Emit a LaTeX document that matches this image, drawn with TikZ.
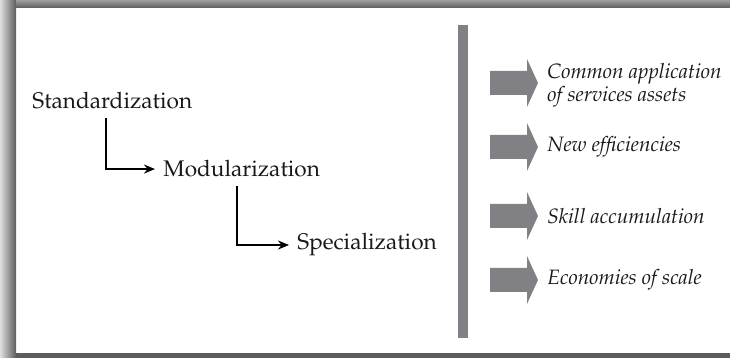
\documentclass[tikz,border=0pt]{standalone}
\usepackage[T1]{fontenc}
\usepackage{mathpazo}
\usetikzlibrary{arrows.meta}

\definecolor{bargray}{RGB}{128,128,133}
\definecolor{framegray}{RGB}{92,92,92}

\tikzset{
  stage/.style={inner sep=4pt, anchor=base west, text=black!90, font=\fontsize{11.3}{13}\selectfont},
  gain/.style={inner sep=0pt, anchor=west, align=left, text=black!90, font=\fontsize{10.4}{10}\selectfont\itshape},
  link/.style={line width=1pt, -{Stealth[length=5.5pt, width=4.5pt]}},
}

\begin{document}
\begin{tikzpicture}[x=0.5pt, y=0.5pt]
\useasboundingbox (0,0) rectangle (730,358);

% frame with shaded left edge
\fill[left color=gray!25, right color=framegray] (0,0) rectangle (16,358);
\fill[top color=gray!75, bottom color=framegray] (16,350) rectangle (730,358);
\fill[framegray] (16,0) rectangle (730,5);

% the three stages
\node[stage] (std) at (24,249) {Standardization};
\node[stage] (mod) at (155,181) {Modularization};
\node[stage] (spec) at (289,108) {Specialization};

\draw[link] ([xshift=41pt]std.south west) |- (mod.west);
\draw[link] ([xshift=41pt]mod.south west) |- (spec.west);

% divider
\fill[bargray] (458,20) rectangle (468,333);

% block arrows
\foreach \y in {275,211,142,78}
  \fill[bargray] (490,\y+12) -- (527,\y+12) -- (527,\y+24) -- (538,\y)
    -- (527,\y-24) -- (527,\y-12) -- (490,\y-12) -- cycle;

\node[gain] (common) at (547,273) {Common application\\of services assets};
\node[gain] (effic) at (547,211) {New efficiencies};
\node[gain] (skill) at (547,142) {Skill accumulation};
\node[gain] (scale) at (547,78) {Economies of scale};
\end{tikzpicture}
\end{document}
